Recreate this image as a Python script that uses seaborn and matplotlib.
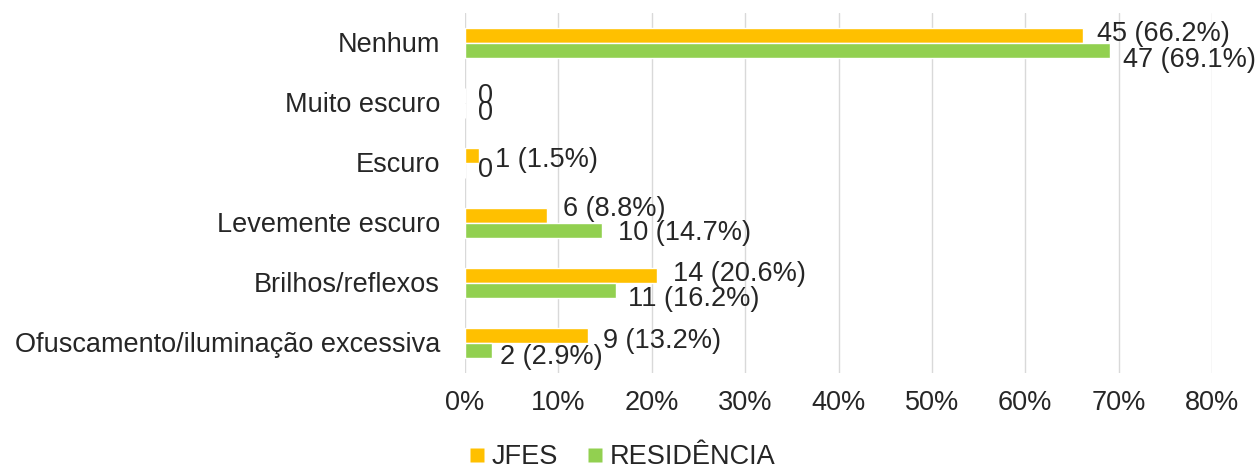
import matplotlib
matplotlib.use("Agg")
import matplotlib.pyplot as plt
import seaborn as sns
import pandas as pd
from matplotlib.lines import Line2D

categories = ["Nenhum", "Muito escuro", "Escuro", "Levemente escuro",
              "Brilhos/reflexos", "Ofuscamento/iluminação excessiva"]
series_names = ["JFES", "RESIDÊNCIA"]
jfes_counts = [45, 0, 1, 6, 14, 9]
jfes_pct = [66.2, 0.0, 1.5, 8.8, 20.6, 13.2]
res_counts = [47, 0, 0, 10, 11, 2]
res_pct = [69.1, 0.0, 0.0, 14.7, 16.2, 2.9]
x_ticks = [0, 10, 20, 30, 40, 50, 60, 70, 80]

colors = {"JFES": "#FFC000", "RESIDÊNCIA": "#92D050"}
text_color = "#262626"
FS = 19.5

df = pd.DataFrame({
    "categoria": categories * 2,
    "serie": [series_names[0]] * len(categories) + [series_names[1]] * len(categories),
    "pct": jfes_pct + res_pct,
    "n": jfes_counts + res_counts,
})

sns.set_theme(style="white")
plt.rcParams["font.family"] = ["Liberation Sans", "DejaVu Sans"]

fig = plt.figure(figsize=(12.6, 4.68), dpi=100)
ax = fig.add_axes([465 / 1260, 1 - 372.5 / 468, 747 / 1260, 360 / 468])

sns.barplot(data=df, y="categoria", x="pct", hue="serie", order=categories,
            hue_order=series_names, palette=colors, orient="h",
            width=0.5, gap=0, saturation=1, dodge=True, legend=False, ax=ax)

ax.set_xlim(0, 80)
ax.set_ylim(len(categories) - 0.5, -0.5)
ax.set_xticks(x_ticks)
ax.set_xticklabels([f"{t}%" for t in x_ticks])
ax.set_xlabel("")
ax.set_ylabel("")
ax.grid(axis="x", color="#D9D9D9", linewidth=1)
ax.set_axisbelow(True)
for s in ax.spines.values():
    s.set_visible(False)
ax.tick_params(axis="both", length=0, labelsize=FS, colors=text_color)
ax.tick_params(axis="x", pad=12.5)
ax.tick_params(axis="y", pad=18)

def label(n, p):
    return "0" if n == 0 else f"{n} ({p:.1f}%)"

# label nudges in pixels (dx right, dy down) so the crowded labels stay readable
jfes_nudge = [(14, -1), (13, 1), (16, 5), (16, -6), (16, -1), (15, 6)]
res_nudge = [(13, 10), (13, 3), (13, 0), (16, 3), (12, 9), (8, 7)]
px = 72 / 100

for i in range(len(categories)):
    for counts, pcts, nudges, shift in ((jfes_counts, jfes_pct, jfes_nudge, -0.125),
                                        (res_counts, res_pct, res_nudge, 0.125)):
        n, p = counts[i], pcts[i]
        dx, dy = nudges[i]
        ax.annotate(label(n, p), (p, i + shift), xytext=(dx * px, -dy * px),
                    textcoords="offset points", ha="left", va="center",
                    fontsize=FS, color=text_color)

handles = [Line2D([], [], marker="s", linestyle="none", markersize=10,
                  markerfacecolor=colors[s], markeredgecolor="none", label=s)
           for s in series_names]
fig.legend(handles=handles, loc="center left", bbox_to_anchor=(470 / 1260, 1 - 457 / 468),
           ncol=2, frameon=False, fontsize=FS, handlelength=0.55,
           handletextpad=0.25, columnspacing=1.1, borderpad=0, borderaxespad=0,
           labelcolor=text_color)

fig.savefig("out.png", dpi=100)
